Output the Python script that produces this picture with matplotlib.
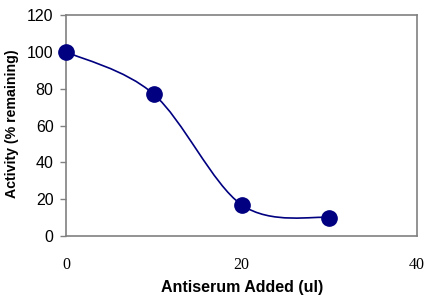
import numpy as np
import matplotlib
matplotlib.use("Agg")
import matplotlib.pyplot as plt
from matplotlib.path import Path
from matplotlib.patches import PathPatch

# data
antiserum = [0, 10, 20, 30]
activity = [100, 77, 17, 10]

navy = "#000080"

fig = plt.figure(figsize=(4.32, 3.02), dpi=100)
ax = fig.add_axes([0.1528, 0.2185, 0.8125, 0.7317])

# Excel style smoothed line (bezier through the points)
pts = np.column_stack([antiserum, activity]).astype(float)
n = len(pts)
verts = [pts[0]]
codes = [Path.MOVETO]
for i in range(n - 1):
    p0 = pts[i - 1] if i > 0 else pts[i]
    p1 = pts[i]
    p2 = pts[i + 1]
    p3 = pts[i + 2] if i + 2 < n else pts[i + 1]
    c1 = p1 + (p2 - p0) / 6.0
    c2 = p2 - (p3 - p1) / 6.0
    verts += [c1, c2, p2]
    codes += [Path.CURVE4] * 3
ax.add_patch(PathPatch(Path(verts, codes), facecolor="none", edgecolor=navy, lw=1.2, zorder=2))

ax.plot(antiserum, activity, "o", color=navy, markersize=11, zorder=3, clip_on=False)

ax.set_xlim(0, 40)
ax.set_ylim(0, 120)
ax.set_xticks([0, 20, 40])
ax.set_yticks(range(0, 121, 20))

for s in ax.spines.values():
    s.set_color("#808080")
    s.set_linewidth(1.2)

ax.tick_params(axis="y", direction="out", length=4, width=1, color="#808080", pad=5)
ax.tick_params(axis="x", length=0, pad=15)
for lab in ax.get_yticklabels():
    lab.set_fontfamily("Liberation Sans")
    lab.set_fontsize(11.5)
for lab in ax.get_xticklabels():
    lab.set_fontfamily("Liberation Serif")
    lab.set_fontsize(11.5)

fig.text(0.5595, 0.034, "Antiserum Added (ul)", ha="center", va="baseline",
         fontfamily="Liberation Sans", fontweight="bold", fontsize=11.5)
fig.text(12 / 432, 0.589, "Activity (% remaining)", ha="center", va="center", rotation=90,
         fontfamily="Liberation Sans", fontweight="bold", fontsize=10.2)

fig.savefig("out.png", dpi=100)
